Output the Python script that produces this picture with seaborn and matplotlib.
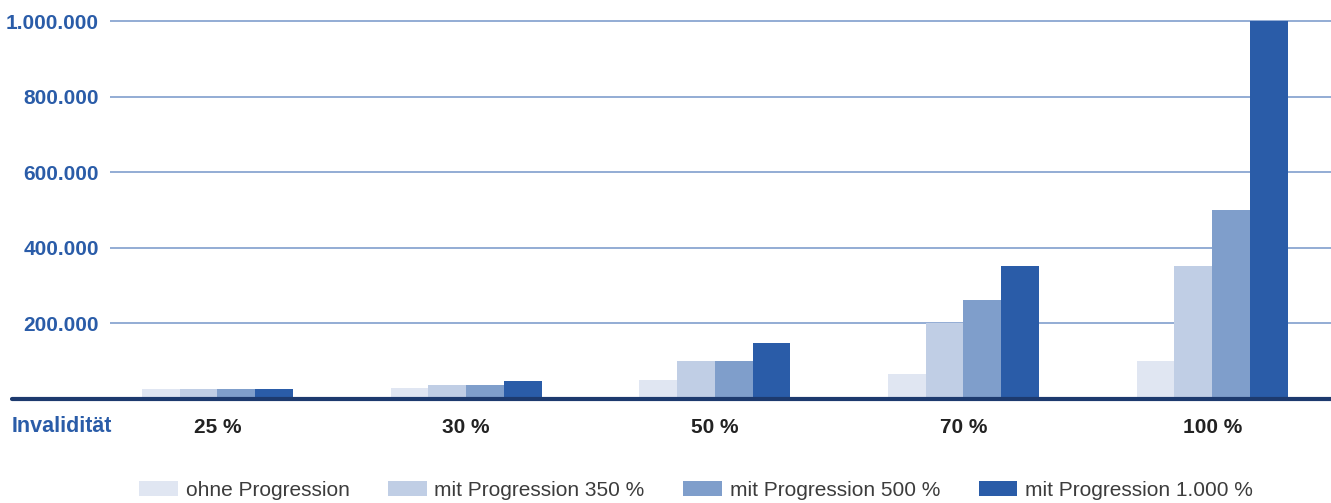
import numpy as np
import pandas as pd
import seaborn as sns
import matplotlib.pyplot as plt
from matplotlib.lines import Line2D

# data
grades = ["25 %", "30 %", "50 %", "70 %", "100 %"]
series = ["ohne Progression", "mit Progression 350 %", "mit Progression 500 %", "mit Progression 1.000 %"]
ohne = [25000, 27000, 48000, 66000, 100000]
prog_350 = [25000, 35000, 100000, 200000, 350000]
prog_500 = [25000, 35000, 100000, 260000, 500000]
prog_1000 = [25000, 46000, 148000, 350000, 1000000]
yticks = [200000, 400000, 600000, 800000, 1000000]
ytick_labels = ["200.000", "400.000", "600.000", "800.000", "1.000.000"]

colors = ["#e0e6f2", "#c0cee5", "#7f9ecb", "#2a5ca8"]
blue_txt = "#2a5ca8"
navy = "#1d3a6e"

df = pd.DataFrame({
    "grad": grades * 4,
    "art": np.repeat(series, len(grades)),
    "summe": ohne + prog_350 + prog_500 + prog_1000,
})

sns.set_style("white")
plt.rcParams['font.family'] = ['Liberation Sans', 'DejaVu Sans']

W, H = 1331, 503
fig = plt.figure(figsize=(W / 100, H / 100), dpi=100)
# axes: left at 110px, baseline at ~398px, top slightly above 1.000.000 line
ax = fig.add_axes([110 / W, (H - 398.5) / H, (W - 110) / W, (398.5 - 13.5) / H])

sns.barplot(data=df, x="grad", y="summe", hue="art", order=grades, hue_order=series,
            palette=colors, width=0.607, gap=0, saturation=1, linewidth=0,
            dodge=True, ax=ax, zorder=3)

ax.set_xlim(-0.432, 4.478)
ax.set_ylim(0, 1020000)

for s in ax.spines.values():
    s.set_visible(False)

ax.set_yticks(yticks)
ax.set_yticklabels(ytick_labels, fontsize=15, fontweight="bold", color=blue_txt)
ax.tick_params(axis="y", length=0, pad=8)
ax.yaxis.grid(True, color="#93acd4", linewidth=1.4, zorder=1)
ax.set_axisbelow(True)

ax.tick_params(axis="x", length=0, pad=14)
for lbl in ax.get_xticklabels():
    lbl.set_fontsize(15)
    lbl.set_fontweight("bold")
    lbl.set_color("#222222")
ax.set_xlabel("")
ax.set_ylabel("")

# thick baseline running under the "Invalidität" label too
fig.add_artist(Line2D([12 / W, 1.0], [(H - 399) / H, (H - 399) / H],
                      color=navy, linewidth=3, transform=fig.transFigure, zorder=5))

fig.text(12 / W, (H - 427) / H, "Invalidität", fontsize=15.5, fontweight="bold",
         color=blue_txt, ha="left", va="center")

handles, labels = ax.get_legend_handles_labels()
ax.legend(handles, labels, loc="center", ncol=4, frameon=False,
          bbox_to_anchor=(696 / W, 13 / H), bbox_transform=fig.transFigure,
          fontsize=15, labelcolor="#3c3c3c", handlelength=1.85, handleheight=0.72,
          handletextpad=0.38, columnspacing=1.85, borderpad=0, borderaxespad=0)

fig.savefig("out.png", dpi=100)
